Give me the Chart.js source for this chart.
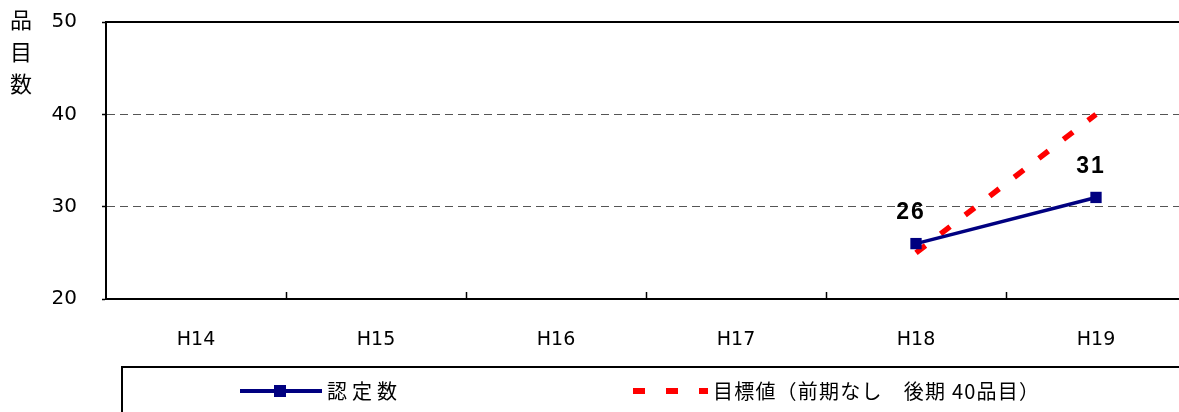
<!DOCTYPE html>
<html>
<head>
<meta charset="utf-8">
<script src="https://cdn.jsdelivr.net/npm/chart.js@4"></script>
<style>
  html, body { margin: 0; padding: 0; background: #fff; overflow: hidden; }
  #wrap { width: 1196px; height: 412px; }
  #c { width: 1196px; height: 412px; }
</style>
</head>
<body>
<div id="wrap"><canvas id="c" width="1196" height="412"></canvas></div>
<script>
// data
const years = ['H14', 'H15', 'H16', 'H17', 'H18', 'H19'];
const certified = [null, null, null, null, 26, 31];
const target = [null, null, null, null, 25, 40];
const yTicks = [20, 30, 40, 50];
const seriesNames = ['認定数', '目標値（前期なし　後期 40品目）'];

const jp = '"Noto Sans CJK JP", "MS PGothic", sans-serif';
const latin = '"DejaVu Sans", Arial, sans-serif';
const boldLatin = '"Liberation Sans", Arial, sans-serif';

// extra drawing: axis title, top border, inside x ticks, value labels, legend box
const decorations = {
    id: 'decorations',
    afterDraw(chart) {
        const ctx = chart.ctx;
        const area = chart.chartArea;
        const x = chart.scales.x;
        ctx.save();

        // top border line
        ctx.strokeStyle = '#000';
        ctx.lineWidth = 2;
        ctx.beginPath();
        ctx.moveTo(area.left, area.top);
        ctx.lineTo(area.right, area.top);
        ctx.stroke();

        // small inside ticks between categories
        ctx.lineWidth = 1.5;
        const step = x.getPixelForValue(1) - x.getPixelForValue(0);
        for (let i = 1; i < years.length; i++) {
            const px = Math.round(x.getPixelForValue(i) - step / 2) + 0.5;
            ctx.beginPath();
            ctx.moveTo(px, area.bottom);
            ctx.lineTo(px, area.bottom - 7);
            ctx.stroke();
        }

        // vertical axis title
        ctx.fillStyle = '#000';
        ctx.font = '22px ' + jp;
        ctx.textAlign = 'center';
        ctx.textBaseline = 'middle';
        ['品', '目', '数'].forEach(function(ch, i) {
            ctx.fillText(ch, 21, 20 + i * 32);
        });

        // value labels for 認定数
        ctx.font = 'bold 23px ' + boldLatin;
        ctx.letterSpacing = '2px';
        const meta = chart.getDatasetMeta(0);
        meta.data.forEach(function(pt, i) {
            if (certified[i] == null) return;
            ctx.fillText(String(certified[i]), pt.x - 5, pt.y - 31);
        });
        ctx.letterSpacing = '0px';

        // legend box
        ctx.lineWidth = 2;
        ctx.strokeStyle = '#000';
        ctx.strokeRect(122, 367, 1200, 100);

        const ly = 391;
        // series 1 sample
        ctx.strokeStyle = '#000080';
        ctx.lineWidth = 4;
        ctx.beginPath();
        ctx.moveTo(240, ly);
        ctx.lineTo(322, ly);
        ctx.stroke();
        ctx.fillStyle = '#000080';
        ctx.fillRect(274, ly - 6, 12, 12);

        // series 2 sample
        ctx.strokeStyle = '#ff0000';
        ctx.lineWidth = 6;
        ctx.setLineDash([12, 21]);
        ctx.beginPath();
        ctx.moveTo(633, ly);
        ctx.lineTo(708, ly);
        ctx.stroke();
        ctx.setLineDash([]);

        ctx.fillStyle = '#000';
        ctx.font = '20px ' + jp;
        ctx.textAlign = 'left';
        ctx.letterSpacing = '5px';
        ctx.fillText(seriesNames[0], 327, ly);
        ctx.letterSpacing = '1.2px';
        ctx.fillText(seriesNames[1], 713, ly);

        ctx.restore();
    }
};

new Chart(document.getElementById('c'), {
    type: 'line',
    data: {
        labels: years,
        datasets: [{
            label: seriesNames[0],
            data: certified,
            borderColor: '#000080',
            backgroundColor: '#000080',
            borderWidth: 3.5,
            pointStyle: 'rect',
            pointRadius: 8,
            pointBorderWidth: 0,
            pointBackgroundColor: '#000080',
            tension: 0,
            order: 1
        }, {
            label: seriesNames[1],
            data: target,
            borderColor: '#ff0000',
            backgroundColor: '#ff0000',
            borderWidth: 5.5,
            borderDash: [12, 19],
            borderCapStyle: 'butt',
            pointRadius: 0,
            tension: 0,
            order: 2
        }]
    },
    options: {
        responsive: false,
        animation: false,
        layout: { padding: { left: 0, top: 22, right: 10, bottom: 0 } },
        scales: {
            x: {
                type: 'category',
                offset: true,
                grid: { display: false, offset: true },
                border: { display: true, color: '#000', width: 2 },
                ticks: {
                    color: '#000',
                    padding: 22,
                    font: { family: latin, size: 19 }
                },
                afterFit: function(s) {
                    s.height = 113;
                    s.paddingLeft = 0;
                    s.paddingRight = 0;
                }
            },
            y: {
                min: 20,
                max: 50,
                afterBuildTicks: function(s) {
                    s.ticks = yTicks.map(function(v) { return { value: v }; });
                },
                grid: {
                    color: function(c) {
                        return (c.tick && (c.tick.value === 20 || c.tick.value === 50)) ? 'rgba(0,0,0,0)' : '#555';
                    },
                    lineWidth: 1,
                    tickLength: 4,
                    tickColor: '#000',
                    tickWidth: 1.5
                },
                border: { display: true, color: '#000', width: 2, dash: [8, 5] },
                ticks: {
                    color: '#000',
                    padding: 25,
                    font: { family: latin, size: 20 }
                },
                afterFit: function(s) {
                    s.width = 106;
                    s.paddingTop = 0;
                    s.paddingBottom = 0;
                }
            }
        },
        plugins: {
            legend: { display: false },
            tooltip: { enabled: false }
        }
    },
    plugins: [decorations]
});
</script>
</body>
</html>
